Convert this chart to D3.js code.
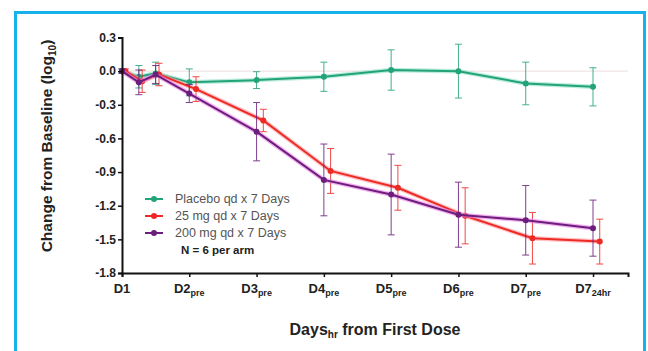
<!DOCTYPE html>
<html>
<head>
<meta charset="utf-8">
<script src="https://cdn.jsdelivr.net/npm/d3@7"></script>
<style>
  body { margin: 0; background: #fff; }
  svg { font-family: "Liberation Sans", Arial, sans-serif; }
</style>
</head>
<body>
<div class="chart"></div>
<script>
// time points in days from first dose (D1 = 0)
const times = [0, 0.25, 0.5, 1, 2, 3, 4, 5, 6, 7]

const tickDays = [0, 1, 2, 3, 4, 5, 6, 7]
const tickMain = ['D1', 'D2', 'D3', 'D4', 'D5', 'D6', 'D7', 'D7']
const tickSub = ['', 'pre', 'pre', 'pre', 'pre', 'pre', 'pre', '24hr']

const yTicks = [0.3, 0.0, -0.3, -0.6, -0.9, -1.2, -1.5, -1.8]

const seriesNames = ['Placebo qd x 7 Days', '25 mg qd x 7 Days', '200 mg qd x 7 Days']

const placeboMean = [0, -0.05, -0.02, -0.10, -0.08, -0.05, 0.01, 0.00, -0.11, -0.14]
const placeboErr = [0.02, 0.10, 0.10, 0.12, 0.075, 0.13, 0.18, 0.24, 0.19, 0.17]

const mg25Mean = [0, -0.09, -0.03, -0.16, -0.44, -0.89, -1.04, -1.29, -1.49, -1.52]
const mg25Err = [0.02, 0.10, 0.10, 0.11, 0.10, 0.20, 0.20, 0.25, 0.23, 0.20]

const mg200Mean = [0, -0.10, -0.03, -0.20, -0.54, -0.97, -1.10, -1.28, -1.33, -1.40]
const mg200Err = [0.02, 0.11, 0.08, 0.08, 0.26, 0.32, 0.36, 0.29, 0.31, 0.25]

const width = 648
const height = 351

const svg = d3.select('.chart')
  .append('svg')
  .attr('width', width)
  .attr('height', height)

// light blue frame round the figure
svg.append('rect')
  .attr('x', 15.5)
  .attr('y', 12.5)
  .attr('width', 629)
  .attr('height', 360)
  .attr('fill', 'none')
  .attr('stroke', '#19b1ec')
  .attr('stroke-width', 3)

const x = d3.scaleLinear().domain([0, 7.52]).range([122, 628])
const y = d3.scaleLinear().domain([-1.8, 0.3]).range([273, 37.5])

// faint zero line
svg.append('line')
  .attr('x1', x(0)).attr('x2', x(7.52))
  .attr('y1', y(0)).attr('y2', y(0))
  .attr('stroke', '#ecdede')
  .attr('stroke-width', 1)

const series = [
  {name: seriesNames[0], mean: placeboMean, err: placeboErr, color: '#22a37a', halo: '#8fe0c4', dodge: 0},
  {name: seriesNames[1], mean: mg25Mean, err: mg25Err, color: '#ee2a24', halo: '#ff9aa0', dodge: 0.1},
  {name: seriesNames[2], mean: mg200Mean, err: mg200Err, color: '#6a1f7c', halo: '#f07ce8', dodge: 0}
]

const line = d3.line()
  .x(d => x(d.t))
  .y(d => y(d.v))

series.forEach(s => {
  let pts = times.map((t, i) => ({t: t + (i > 2 ? s.dodge : s.dodge * 0.5), v: s.mean[i], e: s.err[i]}))
  let g = svg.append('g').attr('class', 'series')

  // error bars
  let eb = g.selectAll('g.err')
    .data(pts)
    .enter().append('g')
      .attr('class', 'err')
      .attr('stroke', s.color)
      .attr('stroke-width', 1)
      .attr('opacity', 0.85)

  eb.append('line')
    .attr('x1', d => x(d.t)).attr('x2', d => x(d.t))
    .attr('y1', d => y(d.v + d.e)).attr('y2', d => y(d.v - d.e))
  eb.append('line')
    .attr('x1', d => x(d.t) - 3.5).attr('x2', d => x(d.t) + 3.5)
    .attr('y1', d => y(d.v + d.e)).attr('y2', d => y(d.v + d.e))
  eb.append('line')
    .attr('x1', d => x(d.t) - 3.5).attr('x2', d => x(d.t) + 3.5)
    .attr('y1', d => y(d.v - d.e)).attr('y2', d => y(d.v - d.e))

  // soft halo under the line, like the blurred original
  g.append('path')
    .datum(pts)
    .attr('d', line)
    .attr('fill', 'none')
    .attr('stroke', s.halo)
    .attr('stroke-opacity', 0.6)
    .attr('stroke-width', 4.5)

  g.append('path')
    .datum(pts)
    .attr('d', line)
    .attr('fill', 'none')
    .attr('stroke', s.color)
    .attr('stroke-width', 2)

  g.selectAll('circle')
    .data(pts)
    .enter().append('circle')
      .attr('cx', d => x(d.t))
      .attr('cy', d => y(d.v))
      .attr('r', 3)
      .attr('fill', s.color)
})

// y axis
const yAxis = svg.append('g')
  .attr('transform', `translate(${x(0)},0)`)
  .call(d3.axisLeft(y).tickValues(yTicks).tickFormat(d3.format('.1f')).tickSize(4).tickPadding(2))

yAxis.select('.domain').attr('stroke', '#111').attr('stroke-width', 2)
yAxis.selectAll('.tick line').attr('stroke', '#111').attr('stroke-width', 1.5)
yAxis.selectAll('.tick text')
  .attr('fill', '#222')
  .style('font-size', '12px')
  .style('font-weight', 'bold')
  .text(d => d === 0 ? '0.0' : d3.format('.1f')(d).replace('−', '-'))

// x axis
const xAxis = svg.append('g')
  .attr('transform', `translate(0,${y(-1.8)})`)
  .call(d3.axisBottom(x).tickValues(tickDays).tickSize(4).tickFormat(''))

xAxis.select('.domain').attr('stroke', '#111').attr('stroke-width', 2)
xAxis.selectAll('.tick line').attr('stroke', '#111').attr('stroke-width', 1.5)

const xl = svg.append('g')
  .selectAll('text')
  .data(tickDays)
  .enter().append('text')
    .attr('x', d => x(d))
    .attr('y', y(-1.8) + 20)
    .attr('text-anchor', 'middle')
    .style('font-size', '13px')
    .style('font-weight', 'bold')
    .attr('fill', '#222')

xl.append('tspan').text((d, i) => tickMain[i])
xl.append('tspan')
  .attr('dy', 3)
  .style('font-size', '9px')
  .text((d, i) => tickSub[i])

// axis titles
const yTitle = svg.append('text')
  .attr('transform', 'translate(52,146) rotate(-90)')
  .attr('text-anchor', 'middle')
  .style('font-size', '15.5px')
  .style('font-weight', 'bold')
  .attr('fill', '#222')
yTitle.append('tspan').text('Change from Baseline (log')
yTitle.append('tspan').attr('dy', 4).style('font-size', '10px').text('10')
yTitle.append('tspan').attr('dy', -4).text(')')

const xTitle = svg.append('text')
  .attr('x', 375)
  .attr('y', 335)
  .attr('text-anchor', 'middle')
  .style('font-size', '16px')
  .style('font-weight', 'bold')
  .attr('fill', '#222')
xTitle.append('tspan').text('Days')
xTitle.append('tspan').attr('dy', 3).style('font-size', '10px').text('hr')
xTitle.append('tspan').attr('dy', -3).text(' from First Dose')

// legend
const legend = svg.append('g')
  .attr('class', 'legend')
  .attr('transform', 'translate(145,199)')

const items = legend.selectAll('g')
  .data(series)
  .enter().append('g')
    .attr('transform', (d, i) => `translate(0,${i * 17})`)

items.append('line')
  .attr('x1', 0).attr('x2', 18)
  .attr('stroke', d => d.color)
  .attr('stroke-width', 2)
items.append('circle')
  .attr('cx', 9)
  .attr('r', 3)
  .attr('fill', d => d.color)
items.append('text')
  .attr('x', 30)
  .attr('y', 4)
  .style('font-size', '12.5px')
  .attr('fill', '#555')
  .text(d => d.name)

legend.append('text')
  .attr('x', 36)
  .attr('y', 55)
  .style('font-size', '11.5px')
  .style('font-weight', 'bold')
  .attr('fill', '#222')
  .text('N = 6 per arm')
</script>
</body>
</html>
